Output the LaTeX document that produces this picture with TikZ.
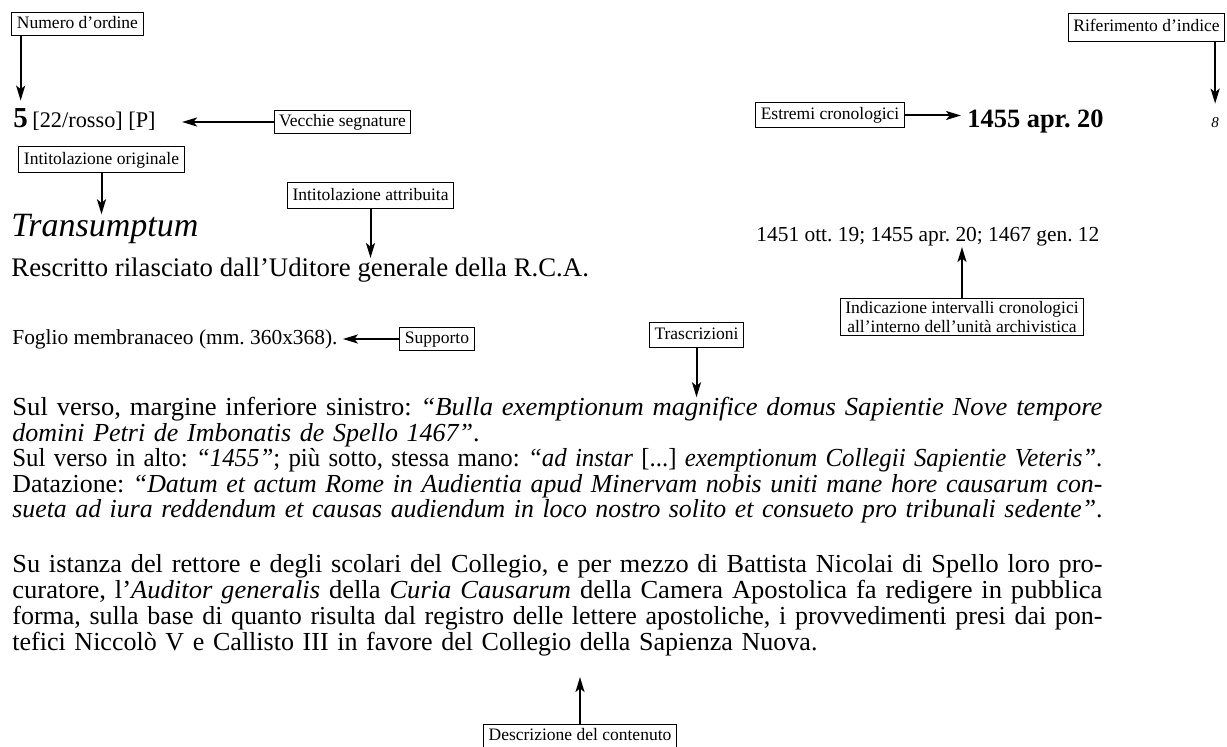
\documentclass[tikz,border=0pt]{standalone}
\usepackage{fontspec}
\usepackage{graphicx}
\setmainfont{Liberation Serif}
\newfontfamily\corpofont{Liberation Serif}
\usetikzlibrary{arrows.meta}
\frenchspacing
\newlength\corpow
\setlength\corpow{545pt}
% riga giustificata: portata sempre alla larghezza del corpo
\newcommand\jline[1]{\leavevmode\resizebox{\corpow}{\height}{#1}}

\begin{document}
\begin{tikzpicture}[x=0.5pt,y=-0.5pt,
  lab/.style={draw,line width=0.5pt,inner xsep=2.5pt,inner ysep=1.5pt,
    text height=6.4pt,text depth=1.9pt,font=\fontsize{8.75}{10}\selectfont},
  lab2/.style={draw,line width=0.5pt,inner xsep=2.5pt,inner ysep=1.5pt,
    align=center,font=\fontsize{8.75}{9.5}\selectfont},
  testo/.style={inner sep=0pt,anchor=base west},
  corpo/.style={inner sep=0pt,anchor=base west,text width=\corpow,align=left,
    font=\corpofont\fontsize{13}{12.75}\selectfont},
  freccia/.style={line width=1pt,-{Stealth[length=7.5pt,width=4.5pt,inset=1.8pt]}}]
\useasboundingbox (0,0) rectangle (1227,747);
% prima riga
\node[lab] (ordine) at (77.5,24) {Numero d’ordine};
\node[testo,font=\fontsize{14.5}{15}\selectfont\bfseries] (cinque) at (13,128) {5};
\node[testo,font=\fontsize{11.15}{12}\selectfont] (segn) at (32,128) {[22/rosso] [P]};
\node[lab] (vecchie) at (342.5,122) {Vecchie segnature};
\node[lab,minimum height=12.5pt] (estremi) at (830,115.5) {Estremi cronologici};
\node[testo,font=\fontsize{13.2}{14}\selectfont\bfseries] (data) at (967,128) {1455 apr. 20};
\node[lab,minimum height=14pt] (indice) at (1146.5,27.5) {Riferimento d’indice};
\node[testo,font=\fontsize{7.5}{8}\selectfont\itshape] (otto) at (1211,128) {8};
% intitolazioni
\node[lab,minimum height=13pt] (orig) at (101.5,160) {Intitolazione originale};
\node[testo,font=\fontsize{17}{18}\selectfont\itshape] (titolo) at (11,237) {Transumptum};
\node[lab,minimum height=13pt] (attrib) at (370.5,196) {Intitolazione attribuita};
\node[testo,font=\fontsize{13.4}{14}\selectfont] (rescritto) at (11,277)
  {Rescritto rilasciato dall’Uditore generale della R.C.A.};
\node[testo,font=\fontsize{10.7}{12}\selectfont] (intervalli) at (756,242)
  {1451 ott. 19; 1455 apr. 20; 1467 gen. 12};
\node[lab2] (indicazione) at (962,317)
  {Indicazione intervalli cronologici\\all’interno dell’unità archivistica};
% supporto e trascrizioni
\node[testo,font=\fontsize{10.7}{12}\selectfont] (foglio) at (12,345)
  {Foglio membranaceo (mm. 360x368).};
\node[lab] (supporto) at (437,339) {Supporto};
\node[lab,minimum height=12.5pt] (trascr) at (696.5,335) {Trascrizioni};
\node[corpo] (trascrizioni) at (12,416)
  {\jline{Sul verso, margine inferiore sinistro: \textit{“Bulla exemptionum magnifice domus Sapientie Nove tempore}}\\
  \textit{domini Petri de Imbonatis de Spello 1467”}.\\
  \jline{Sul verso in alto: \textit{“1455”}; più sotto, stessa mano: \textit{“ad instar} [...] \textit{exemptionum Collegii Sapientie Veteris”}.}\\
  \jline{Datazione: \textit{“Datum et actum Rome in Audientia apud Minervam nobis uniti mane hore causarum con-}}\\
  \jline{\textit{sueta ad iura reddendum et causas audiendum in loco nostro solito et consueto pro tribunali sedente”}.}};
% contenuto
\node[corpo,font=\corpofont\fontsize{13}{13}\selectfont] (contenuto) at (12,573)
  {\jline{Su istanza del rettore e degli scolari del Collegio, e per mezzo di Battista Nicolai di Spello loro pro-}\\
  \jline{curatore, l’\textit{Auditor generalis} della \textit{Curia Causarum} della Camera Apostolica fa redigere in pubblica}\\
  \jline{forma, sulla base di quanto risulta dal registro delle lettere apostoliche, i provvedimenti presi dai pon-}\\
  tefici Niccolò V e Callisto III in favore del Collegio della Sapienza Nuova.};
\node[lab,minimum height=11.5pt] (descr) at (580,736.5) {Descrizione del contenuto};

\draw (ordine.south -| cinque.north) edge[freccia,shorten >=4pt] (cinque.north)
  (vecchie.west) edge[freccia,shorten >=13pt] (vecchie.west -| segn.east)
  (estremi.east) edge[freccia,shorten >=3pt] (estremi.east -| data.west)
  (indice.south -| otto.north) edge[freccia,shorten >=7pt] (otto.north)
  (orig) edge[freccia] (orig |- titolo.north)
  (attrib) edge[freccia] (attrib |- rescritto.north)
  (indicazione) edge[freccia] (indicazione |- intervalli.south)
  (supporto.west) edge[freccia,shorten >=2.5pt] (supporto.west -| foglio.east)
  (trascr) edge[freccia] (trascr |- trascrizioni.north)
  (descr) edge[freccia,shorten >=10pt] (descr |- contenuto.south);
\end{tikzpicture}
\end{document}
